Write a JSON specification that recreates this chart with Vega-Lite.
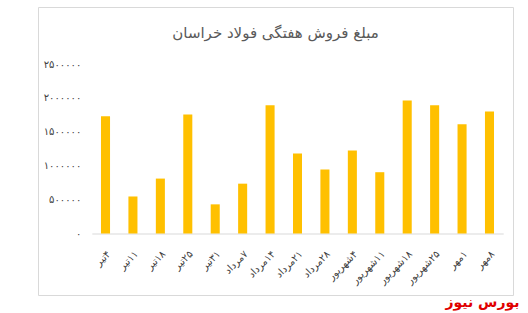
{
  "$schema": "https://vega.github.io/schema/vega-lite/v6.json",
  "autosize": {"type": "none"},
  "width": 475,
  "height": 288,
  "padding": {"left": 38, "top": 7, "right": 15, "bottom": 18},
  "background": "white",
  "config": {
    "view": {"stroke": "#d9d9d9", "strokeWidth": 1},
    "font": "DejaVu Sans"
  },
  "title": {
    "text": "مبلغ فروش هفتگی فولاد خراسان",
    "anchor": "middle",
    "frame": "group",
    "offset": -46,
    "baseline": "alphabetic",
    "fontSize": 15,
    "fontWeight": "normal",
    "color": "#595959",
    "font": "DejaVu Sans"
  },
  "data": {
    "values": [
      {"week": "‏۴تیر", "amount": 1730000},
      {"week": "‏۱۱تیر", "amount": 546000},
      {"week": "‏۱۸تیر", "amount": 810000},
      {"week": "‏۲۵تیر", "amount": 1755000},
      {"week": "‏۳۱تیر", "amount": 430000},
      {"week": "‏۷مرداد", "amount": 735000},
      {"week": "‏۱۴مرداد", "amount": 1890000},
      {"week": "‏۲۱مرداد", "amount": 1180000},
      {"week": "‏۲۸مرداد", "amount": 944000},
      {"week": "‏۴شهریور", "amount": 1224000},
      {"week": "‏۱۱شهریور", "amount": 904000},
      {"week": "‏۱۸شهریور", "amount": 1960000},
      {"week": "‏۲۵شهریور", "amount": 1890000},
      {"week": "‏۱مهر", "amount": 1610000},
      {"week": "‏۸مهر", "amount": 1800000}
    ]
  },
  "mark": {"type": "bar", "color": "#FFC000"},
  "encoding": {
    "x": {
      "field": "week",
      "type": "nominal",
      "sort": null,
      "scale": {"range": [53.8, 465.2], "paddingInner": 0.67, "paddingOuter": 0.335},
      "axis": {
        "offset": -61.5,
        "title": "بورس نیوز",
        "titleColor": "#e00000",
        "titleFontWeight": "bold",
        "titleFontSize": 14,
        "titleFont": "DejaVu Sans",
        "titleAlign": "right",
        "titleAnchor": null,
        "titleBaseline": "alphabetic",
        "titleX": 481,
        "titleY": 73,
        "labelAngle": -45,
        "labelFontSize": 10,
        "labelColor": "#404040",
        "labelPadding": 15,
        "ticks": false,
        "domainColor": "#d9d9d9",
        "grid": false
      }
    },
    "y": {
      "field": "amount",
      "type": "quantitative",
      "scale": {"domain": [0, 2500000], "range": [226.5, 57], "nice": false},
      "axis": {
        "offset": -53.8,
        "title": null,
        "values": [0, 500000, 1000000, 1500000, 2000000, 2500000],
        "format": "d",
        "labelExpr": "replace(replace(replace(replace(datum.label, regexp('0','g'), '۰'), regexp('1','g'), '۱'), regexp('2','g'), '۲'), regexp('5','g'), '۵')",
        "labelFontSize": 10,
        "labelColor": "#404040",
        "labelPadding": 11,
        "ticks": false,
        "domain": false,
        "grid": false
      }
    }
  }
}
